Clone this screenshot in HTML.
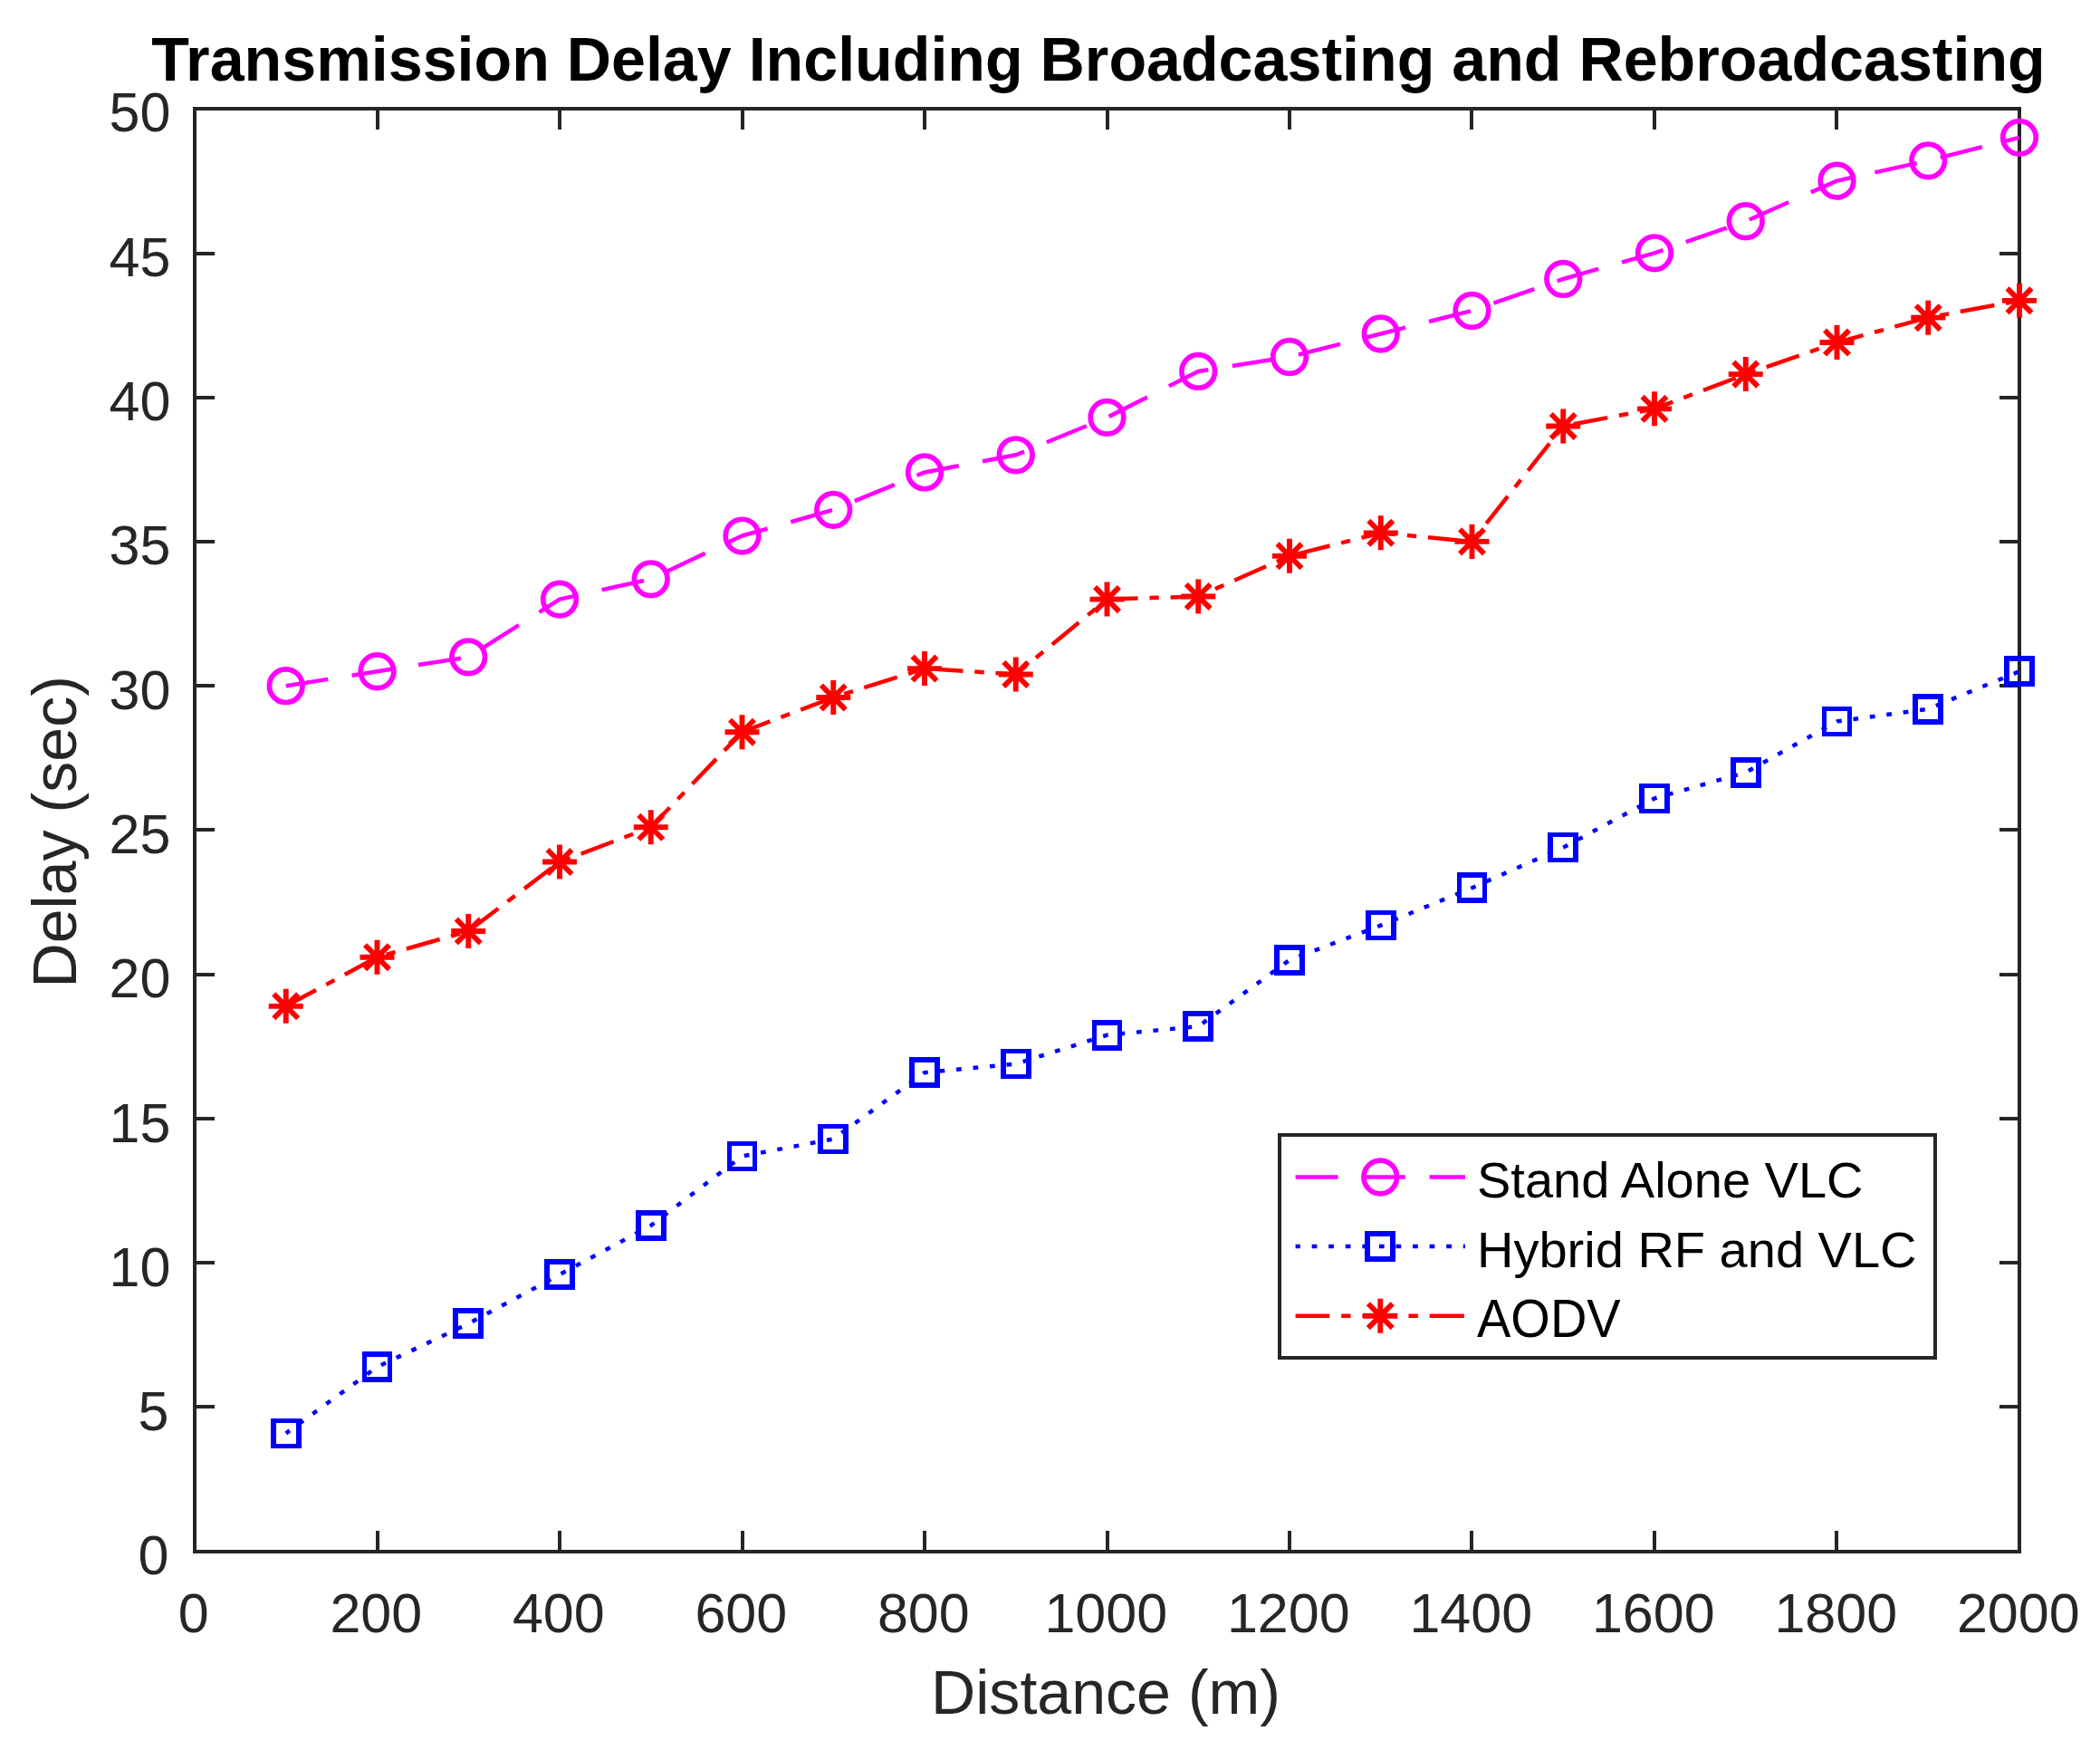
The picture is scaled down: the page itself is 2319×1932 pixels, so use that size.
<!DOCTYPE html>
<html lang="en"><head><meta charset="utf-8">
<title>Transmission Delay Including Broadcasting and Rebroadcasting</title>
<style>
html,body{margin:0;padding:0;background:#fff;}
body{width:2319px;height:1932px;overflow:hidden;}
svg{display:block;}
text{font-family:"Liberation Sans", Arial, Helvetica, sans-serif;}
.tk{font-size:61px;fill:#262626;}
.lb{font-size:68.1px;fill:#262626;}
.tt{font-size:68.2px;font-weight:bold;fill:#000;}
.lg{font-size:56px;fill:#000;}
.ax{stroke:#262626;stroke-width:4;fill:none;shape-rendering:crispEdges;}
.m{stroke:#f0f;fill:none;}
.b{stroke:#00f;fill:none;}
.r{stroke:#f00;fill:none;}
.ln{stroke-width:4.5;stroke-linejoin:round;}
.mk{stroke-width:5.7;}
.dash{stroke-dasharray:47.54 26.76;stroke-dashoffset:0.55;}
.dashdot{stroke-dasharray:38.25 12.83 10.39 12.83;stroke-dashoffset:0.55;}
.dots{stroke-dasharray:5.74 12.83;stroke-dashoffset:0.55;}
.star{stroke-width:5.9;}
</style></head><body>
<svg width="2319" height="1932" viewBox="0 0 2319 1932">
<rect x="0" y="0" width="2319" height="1932" fill="#fff"/>
<text class="tt" x="1213" y="89.2" text-anchor="middle">Transmission Delay Including Broadcasting and Rebroadcasting</text>
<text class="lb" x="1221" y="1891.5" text-anchor="middle">Distance (m)</text>
<text class="lb" transform="translate(84 918.3) rotate(-90)" text-anchor="middle">Delay (sec)</text>
<g class="ax">
<path d="M215 1713 V1690 M215 120 V143 M417 1713 V1690 M417 120 V143 M618 1713 V1690 M618 120 V143 M820 1713 V1690 M820 120 V143 M1021 1713 V1690 M1021 120 V143 M1223 1713 V1690 M1223 120 V143 M1424 1713 V1690 M1424 120 V143 M1625 1713 V1690 M1625 120 V143 M1827 1713 V1690 M1827 120 V143 M2028 1713 V1690 M2028 120 V143 M2230 1713 V1690 M2230 120 V143 M215 1713 H237 M2230 1713 H2208 M215 1553 H237 M2230 1553 H2208 M215 1394 H237 M2230 1394 H2208 M215 1235 H237 M2230 1235 H2208 M215 1076 H237 M2230 1076 H2208 M215 916 H237 M2230 916 H2208 M215 757 H237 M2230 757 H2208 M215 598 H237 M2230 598 H2208 M215 439 H237 M2230 439 H2208 M215 280 H237 M2230 280 H2208 M215 120 H237 M2230 120 H2208"/>
<rect x="215" y="120" width="2015" height="1593"/>
</g>
<g class="tk" text-anchor="middle">
<text x="213.8" y="1802">0</text>
<text x="415.3" y="1802">200</text>
<text x="616.8" y="1802">400</text>
<text x="818.3" y="1802">600</text>
<text x="1019.8" y="1802">800</text>
<text x="1221.3" y="1802">1000</text>
<text x="1422.8" y="1802">1200</text>
<text x="1624.3" y="1802">1400</text>
<text x="1825.8" y="1802">1600</text>
<text x="2027.3" y="1802">1800</text>
<text x="2228.8" y="1802">2000</text>
</g>
<g class="tk" text-anchor="end">
<text x="186.5" y="1738.4">0</text>
<text x="186.5" y="1579.1">5</text>
<text x="188.4" y="1419.8">10</text>
<text x="188.4" y="1260.5">15</text>
<text x="188.4" y="1101.2">20</text>
<text x="188.4" y="941.9">25</text>
<text x="188.4" y="782.6">30</text>
<text x="188.4" y="623.3">35</text>
<text x="188.4" y="464">40</text>
<text x="188.4" y="304.7">45</text>
<text x="188.4" y="145.4">50</text>
</g>
<g class="m">
<polyline class="ln dash" points="315.75,757.2 416.5,741.27 517.25,725.34 618,661.62 718.75,639.32 819.5,591.53 920.25,562.85 1021,521.44 1121.75,502.32 1222.5,460.9 1323.25,409.93 1424,394 1524.75,368.51 1625.5,343.02 1726.25,307.97 1827,279.3 1927.75,244.25 2028.5,199.65 2129.25,177.35 2230,151.86"/>
<g class="mk"><circle cx="315.75" cy="757.2" r="18.3"/><circle cx="416.5" cy="741.27" r="18.3"/><circle cx="517.25" cy="725.34" r="18.3"/><circle cx="618" cy="661.62" r="18.3"/><circle cx="718.75" cy="639.32" r="18.3"/><circle cx="819.5" cy="591.53" r="18.3"/><circle cx="920.25" cy="562.85" r="18.3"/><circle cx="1021" cy="521.44" r="18.3"/><circle cx="1121.75" cy="502.32" r="18.3"/><circle cx="1222.5" cy="460.9" r="18.3"/><circle cx="1323.25" cy="409.93" r="18.3"/><circle cx="1424" cy="394" r="18.3"/><circle cx="1524.75" cy="368.51" r="18.3"/><circle cx="1625.5" cy="343.02" r="18.3"/><circle cx="1726.25" cy="307.97" r="18.3"/><circle cx="1827" cy="279.3" r="18.3"/><circle cx="1927.75" cy="244.25" r="18.3"/><circle cx="2028.5" cy="199.65" r="18.3"/><circle cx="2129.25" cy="177.35" r="18.3"/><circle cx="2230" cy="151.86" r="18.3"/></g>
</g>
<g class="b">
<polyline class="ln dots" points="315.75,1582.37 416.5,1509.1 517.25,1461.31 618,1407.14 718.75,1352.98 819.5,1276.52 920.25,1257.4 1021,1184.12 1121.75,1174.57 1222.5,1142.71 1323.25,1133.15 1424,1059.87 1524.75,1021.64 1625.5,980.22 1726.25,935.62 1827,881.45 1927.75,852.78 2028.5,796.39 2129.25,782.69 2230,741.27"/>
<g class="mk" shape-rendering="crispEdges"><rect x="301.75" y="1568.37" width="28" height="28"/><rect x="402.5" y="1495.1" width="28" height="28"/><rect x="503.25" y="1447.31" width="28" height="28"/><rect x="604" y="1393.14" width="28" height="28"/><rect x="704.75" y="1338.98" width="28" height="28"/><rect x="805.5" y="1262.52" width="28" height="28"/><rect x="906.25" y="1243.4" width="28" height="28"/><rect x="1007" y="1170.12" width="28" height="28"/><rect x="1107.75" y="1160.57" width="28" height="28"/><rect x="1208.5" y="1128.71" width="28" height="28"/><rect x="1309.25" y="1119.15" width="28" height="28"/><rect x="1410" y="1045.87" width="28" height="28"/><rect x="1510.75" y="1007.64" width="28" height="28"/><rect x="1611.5" y="966.22" width="28" height="28"/><rect x="1712.25" y="921.62" width="28" height="28"/><rect x="1813" y="867.45" width="28" height="28"/><rect x="1913.75" y="838.78" width="28" height="28"/><rect x="2014.5" y="782.39" width="28" height="28"/><rect x="2115.25" y="768.69" width="28" height="28"/><rect x="2216" y="727.27" width="28" height="28"/></g>
</g>
<g class="r">
<polyline class="ln dashdot" points="315.75,1110.85 416.5,1056.68 517.25,1028.01 618,951.55 718.75,913.31 819.5,808.18 920.25,769.94 1021,738.08 1121.75,744.46 1222.5,661.62 1323.25,658.43 1424,613.83 1524.75,588.34 1625.5,597.9 1726.25,470.46 1827,451.34 1927.75,413.11 2028.5,378.07 2129.25,350.67 2230,331.87"/>
<g class="mk star"><path d="M296.75 1110.85H334.75 M315.75 1091.85V1129.85 M302.31 1097.41L329.19 1124.28 M302.31 1124.28L329.19 1097.41"/><path d="M397.5 1056.68H435.5 M416.5 1037.68V1075.68 M403.06 1043.25L429.94 1070.12 M403.06 1070.12L429.94 1043.25"/><path d="M498.25 1028.01H536.25 M517.25 1009.01V1047.01 M503.81 1014.57L530.69 1041.45 M503.81 1041.45L530.69 1014.57"/><path d="M599 951.55H637 M618 932.55V970.55 M604.56 938.11L631.44 964.98 M604.56 964.98L631.44 938.11"/><path d="M699.75 913.31H737.75 M718.75 894.31V932.31 M705.31 899.88L732.19 926.75 M705.31 926.75L732.19 899.88"/><path d="M800.5 808.18H838.5 M819.5 789.18V827.18 M806.06 794.74L832.94 821.61 M806.06 821.61L832.94 794.74"/><path d="M901.25 769.94H939.25 M920.25 750.94V788.94 M906.81 756.51L933.69 783.38 M906.81 783.38L933.69 756.51"/><path d="M1002 738.08H1040 M1021 719.08V757.08 M1007.56 724.65L1034.44 751.52 M1007.56 751.52L1034.44 724.65"/><path d="M1102.75 744.46H1140.75 M1121.75 725.46V763.46 M1108.31 731.02L1135.19 757.89 M1108.31 757.89L1135.19 731.02"/><path d="M1203.5 661.62H1241.5 M1222.5 642.62V680.62 M1209.06 648.18L1235.94 675.06 M1209.06 675.06L1235.94 648.18"/><path d="M1304.25 658.43H1342.25 M1323.25 639.43V677.43 M1309.81 645L1336.69 671.87 M1309.81 671.87L1336.69 645"/><path d="M1405 613.83H1443 M1424 594.83V632.83 M1410.56 600.39L1437.44 627.27 M1410.56 627.27L1437.44 600.39"/><path d="M1505.75 588.34H1543.75 M1524.75 569.34V607.34 M1511.31 574.91L1538.19 601.78 M1511.31 601.78L1538.19 574.91"/><path d="M1606.5 597.9H1644.5 M1625.5 578.9V616.9 M1612.06 584.46L1638.94 611.34 M1612.06 611.34L1638.94 584.46"/><path d="M1707.25 470.46H1745.25 M1726.25 451.46V489.46 M1712.81 457.02L1739.69 483.9 M1712.81 483.9L1739.69 457.02"/><path d="M1808 451.34H1846 M1827 432.34V470.34 M1813.56 437.91L1840.44 464.78 M1813.56 464.78L1840.44 437.91"/><path d="M1908.75 413.11H1946.75 M1927.75 394.11V432.11 M1914.31 399.68L1941.19 426.55 M1914.31 426.55L1941.19 399.68"/><path d="M2009.5 378.07H2047.5 M2028.5 359.07V397.07 M2015.06 364.63L2041.94 391.5 M2015.06 391.5L2041.94 364.63"/><path d="M2110.25 350.67H2148.25 M2129.25 331.67V369.67 M2115.81 337.23L2142.69 364.1 M2115.81 364.1L2142.69 337.23"/><path d="M2211 331.87H2249 M2230 312.87V350.87 M2216.56 318.43L2243.44 345.3 M2216.56 345.3L2243.44 318.43"/></g>
</g>
<rect class="ax" x="1413" y="1253" width="723.5" height="246" style="fill:#fff"/>
<g class="m"><path class="ln dash" d="M1430.6 1299.5H1618"/><g class="mk"><circle cx="1524.3" cy="1299.5" r="18.3"/></g></g>
<g class="b"><path class="ln dots" d="M1430.6 1376H1618"/><g class="mk" shape-rendering="crispEdges"><rect x="1510.3" y="1362" width="28" height="28"/></g></g>
<g class="r"><path class="ln dashdot" d="M1430.6 1452.7H1618"/><g class="mk star"><path d="M1505.3 1452.7H1543.3 M1524.3 1433.7V1471.7 M1510.86 1439.26L1537.74 1466.14 M1510.86 1466.14L1537.74 1439.26"/></g></g>
<g class="lg">
<text x="1631" y="1322.3">Stand Alone VLC</text>
<text x="1631" y="1398.8">Hybrid RF and VLC</text>
<text transform="translate(1631 1475.5) scale(1 1.045)">AODV</text>
</g>
</svg>
</body></html>
